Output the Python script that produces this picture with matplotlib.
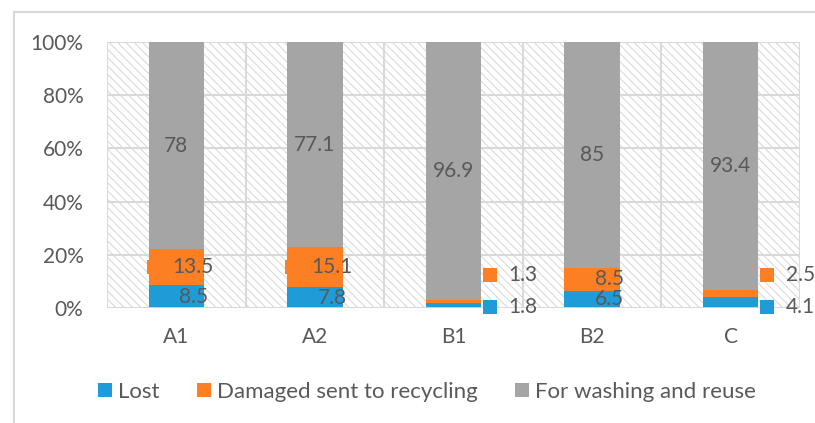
import matplotlib.pyplot as plt
from matplotlib.patches import Rectangle
from matplotlib.lines import Line2D
from matplotlib.transforms import IdentityTransform

plt.rcParams['font.family'] = ['Lato', 'DejaVu Sans']
plt.rcParams['hatch.linewidth'] = 0.7

categories = ['A1', 'A2', 'B1', 'B2', 'C']
lost = [8.5, 7.8, 1.8, 6.5, 4.1]
damaged = [13.5, 15.1, 1.3, 8.5, 2.5]
washing = [78, 77.1, 96.9, 85, 93.4]
series_names = ['Lost', 'Damaged sent to recycling', 'For washing and reuse']
# labels of the small segments that sit outside the bar (B1, C)
outside = [False, False, True, False, True]

c_blue = '#1f9bd7'
c_orange = '#fd7f23'
c_gray = '#a5a5a5'
c_text = '#595959'
c_grid = '#d9d9d9'

W, H, DPI = 815, 423, 100
fig = plt.figure(figsize=(W / DPI, H / DPI), dpi=DPI)
ax = fig.add_axes([107 / W, 1 - 308 / H, 693 / W, 266 / H])

# hatched plot area
ax.add_patch(Rectangle((0, 0), 1, 1, transform=ax.transAxes, facecolor='white',
                       edgecolor='#d6d6d6', lw=0, hatch='\\\\\\\\', zorder=0))

x = list(range(len(categories)))
tot = [l + d + w for l, d, w in zip(lost, damaged, washing)]
p_lost = [v / t for v, t in zip(lost, tot)]
p_dam = [v / t for v, t in zip(damaged, tot)]
p_wash = [v / t for v, t in zip(washing, tot)]
bot2 = [a + b for a, b in zip(p_lost, p_dam)]

bw = 0.4
ax.bar(x, p_lost, bw, color=c_blue, zorder=3, label=series_names[0])
ax.bar(x, p_dam, bw, bottom=p_lost, color=c_orange, zorder=3, label=series_names[1])
ax.bar(x, p_wash, bw, bottom=bot2, color=c_gray, zorder=3, label=series_names[2])

px = 1 / 138.6  # one pixel in data units along x
fs = 15
fs_lab = 15

keyed = []  # (text artist, key colour, outside bar?)
for i in x:
    ax.text(i, p_lost[i] + p_dam[i] + p_wash[i] / 2, f'{washing[i]:g}', ha='center', va='center',
            fontsize=fs_lab, color=c_text, zorder=5)
    if outside[i]:
        xl = i + 55 * px
        t1 = ax.text(xl, 0.004, f'{lost[i]:g}', ha='left', va='center', fontsize=fs_lab,
                     color=c_text, zorder=5)
        t2 = ax.text(xl, 0.125, f'{damaged[i]:g}', ha='left', va='center', fontsize=fs_lab,
                     color=c_text, zorder=5)
    else:
        xc = i + 17 * px
        t1 = ax.text(xc, p_lost[i] / 2, f'{lost[i]:g}', ha='center', va='center',
                     fontsize=fs_lab, color=c_text, zorder=5)
        t2 = ax.text(xc, p_lost[i] + p_dam[i] / 2, f'{damaged[i]:g}', ha='center', va='center',
                     fontsize=fs_lab, color=c_text, zorder=5)
    keyed += [(t1, c_blue, outside[i]), (t2, c_orange, outside[i])]

ax.set_xlim(-0.5, len(categories) - 0.5)
ax.set_ylim(0, 1)
ax.set_yticks([0, 0.2, 0.4, 0.6, 0.8, 1.0])
ax.set_yticklabels(['0%', '20%', '40%', '60%', '80%', '100%'])
ax.set_xticks(x)
ax.set_xticklabels(categories)
ax.set_xticks([i - 0.5 for i in range(len(categories) + 1)], minor=True)
ax.tick_params(which='both', length=0, labelsize=fs, labelcolor=c_text)
ax.tick_params(axis='x', pad=14)
ax.tick_params(axis='y', pad=17)
ax.grid(axis='y', which='major', color=c_grid, lw=1.5, zorder=1)
ax.grid(axis='x', which='minor', color=c_grid, lw=1.5, zorder=1)
ax.set_axisbelow(True)
for s in ax.spines.values():
    s.set_visible(False)
ax.axhline(0, color=c_grid, lw=2, zorder=4)

fig.legend(loc='center', bbox_to_anchor=(0.524, 1 - 392 / H), ncol=3, frameon=False,
           fontsize=16, labelcolor=c_text, handlelength=0.63, handleheight=0.63,
           handletextpad=0.3, columnspacing=1.65)

# chart border
fig.add_artist(Line2D([14 / W, 14 / W], [0, 1 - 12 / H], color=c_grid, lw=1.5))
fig.add_artist(Line2D([14 / W, 1], [1 - 12 / H, 1 - 12 / H], color=c_grid, lw=1.5))

# legend keys in the data labels (the ones inside a bar sit behind it)
fig.canvas.draw()
r = fig.canvas.get_renderer()
for t, col, out in keyed:
    bb = t.get_window_extent(r)
    yc = (bb.y0 + bb.y1) / 2
    key = Rectangle((bb.x0 - 26, yc - 7), 14, 14, transform=IdentityTransform(),
                    facecolor=col, edgecolor='none', zorder=4.5 if out else 2)
    ax.add_artist(key)
    key.set_clip_on(False)

fig.savefig('out.png', dpi=DPI)
